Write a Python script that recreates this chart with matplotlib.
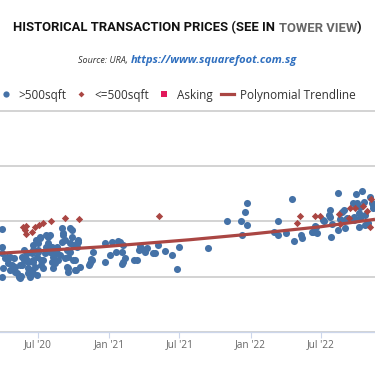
import matplotlib
matplotlib.use("Agg")
import matplotlib.pyplot as plt
import pandas as pd
from matplotlib.lines import Line2D

# >500sqft transactions (date, psf)
big_dates = [
    "2020-03-29", "2020-03-29", "2020-03-29", "2020-04-07", "2020-04-03", "2020-03-29",
    "2020-04-20", "2020-04-25", "2020-05-03", "2020-05-12", "2020-05-16", "2020-05-20",
    "2020-05-25", "2020-06-02", "2020-06-06", "2020-06-10", "2020-06-15", "2020-06-19",
    "2020-06-19", "2020-06-26", "2020-07-02", "2020-07-06", "2020-07-10", "2020-07-15",
    "2020-07-19", "2020-07-23", "2020-07-27", "2020-08-01", "2020-08-05", "2020-08-09",
    "2020-08-14", "2020-08-18", "2020-08-27", "2020-08-31", "2020-09-04", "2020-08-31",
    "2020-09-09", "2020-09-13", "2020-09-17", "2020-09-22", "2020-09-26", "2020-09-22",
    "2020-09-30", "2020-10-05", "2020-10-09", "2020-10-13", "2020-10-18", "2020-11-13",
    "2020-11-14",
    "2020-04-11", "2020-04-15", "2020-04-20", "2020-04-29", "2020-05-03", "2020-05-07",
    "2020-05-16", "2020-05-20", "2020-05-25", "2020-05-29", "2020-06-02", "2020-06-06",
    "2020-06-15", "2020-06-19", "2020-06-19", "2020-06-23", "2020-06-28", "2020-07-02",
    "2020-07-02", "2020-07-06", "2020-07-10", "2020-07-15", "2020-07-23", "2020-07-27",
    "2020-08-01", "2020-08-05", "2020-08-09", "2020-08-14", "2020-08-18", "2020-08-22",
    "2020-09-04", "2020-09-09", "2020-09-13", "2020-09-17", "2020-09-17", "2020-09-26",
    "2020-09-22", "2020-09-30", "2020-10-05", "2020-10-07", "2020-10-09", "2020-10-13",
    "2020-05-18", "2020-06-06", "2020-06-19", "2020-06-28",
    "2020-11-11", "2020-11-21", "2020-11-17", "2020-12-20", "2020-12-20", "2021-01-03",
    "2021-01-09", "2021-01-18", "2021-01-24", "2021-01-30", "2021-02-03", "2021-02-06",
    "2021-02-11", "2021-02-06", "2021-02-02", "2021-03-05", "2021-03-14", "2021-03-18",
    "2021-03-22", "2021-03-26", "2021-04-04", "2021-04-08", "2021-04-23", "2021-04-29",
    "2021-05-08", "2021-05-25", "2021-06-11", "2021-06-26", "2021-07-01",
    "2021-09-12", "2021-11-02", "2021-12-06", "2021-12-17", "2021-12-23", "2021-12-23",
    "2021-12-10", "2022-03-13", "2022-03-02", "2022-03-13", "2022-04-01", "2022-04-18",
    "2022-04-22", "2022-05-11", "2022-05-14", "2022-06-08", "2022-06-17", "2022-06-21",
    "2022-07-07", "2022-07-21", "2022-07-24", "2022-07-26", "2022-07-27", "2022-07-30",
    "2022-08-14", "2022-08-14", "2022-08-19", "2022-08-25", "2022-08-29", "2022-09-01",
    "2022-09-07", "2022-09-22", "2022-09-24", "2022-10-01", "2022-10-02", "2022-10-07",
    "2022-10-11", "2022-10-15", "2022-10-20", "2022-10-24", "2022-10-28", "2022-11-06",
    "2022-11-10", "2022-11-12", "2022-11-14", "2022-10-11", "2022-09-24", "2022-09-02",
    "2022-10-07", "2022-10-24", "2022-11-01", "2022-06-12", "2022-06-18", "2022-07-09",
]
big_psf = [
    1373, 1309, 1285, 1267, 1231, 1200,
    1272, 1243, 1218, 1200, 1243, 1272,
    1297, 1261, 1231, 1200, 1285, 1254,
    1315, 1333, 1297, 1345, 1261, 1231,
    1285, 1351, 1321, 1291, 1254, 1231,
    1285, 1309, 1279, 1375, 1357, 1327,
    1267, 1236, 1218, 1375, 1345, 1291,
    1261, 1224, 1321, 1333, 1236, 1249,
    1263,
    1272, 1249, 1224, 1267, 1236, 1212,
    1194, 1243, 1261, 1272, 1285, 1254,
    1224, 1297, 1261, 1236, 1272, 1321,
    1291, 1339, 1243, 1261, 1309, 1345,
    1351, 1309, 1272, 1249, 1285, 1261,
    1351, 1333, 1297, 1272, 1231, 1369,
    1321, 1315, 1261, 1224, 1309, 1327,
    1203, 1212, 1212, 1206,
    1243, 1291, 1261, 1321, 1253, 1279,
    1327, 1291, 1331, 1325, 1291, 1315,
    1267, 1254, 1245, 1261, 1261, 1297,
    1311, 1299, 1291, 1303, 1287, 1285,
    1315, 1293, 1279, 1227, 1309,
    1303, 1401, 1401, 1433, 1467, 1388,
    1351, 1403, 1363, 1351, 1359, 1480,
    1331, 1351, 1341, 1363, 1384, 1359,
    1405, 1424, 1442, 1417, 1343, 1391,
    1502, 1369, 1408, 1435, 1442, 1375,
    1411, 1466, 1415, 1500, 1466, 1430,
    1451, 1511, 1471, 1424, 1391, 1490,
    1468, 1449, 1460, 1411, 1405, 1405,
    1381, 1387, 1393, 1363, 1381, 1403,
]

# <=500sqft transactions
small_dates = [
    "2020-05-23", "2020-05-31", "2020-05-29", "2020-06-01", "2020-06-15", "2020-06-23",
    "2020-07-03", "2020-07-13", "2020-08-03", "2020-09-08", "2020-10-16", "2021-05-09",
    "2022-05-01", "2022-05-08", "2022-06-15", "2022-06-30", "2022-08-17", "2022-08-20",
    "2022-09-12", "2022-09-15", "2022-09-28", "2022-10-18", "2022-10-28", "2022-11-05",
    "2022-11-08",
]
small_psf = [
    1381, 1384, 1369, 1355, 1362, 1379,
    1387, 1393, 1403, 1413, 1409, 1420,
    1396, 1421, 1421, 1420, 1427, 1390,
    1413, 1448, 1448, 1456, 1438, 1379,
    1483,
]

# asking prices (none in view)
ask_dates = []
ask_psf = []

# polynomial trendline
trend_dates = ["2020-03-25", "2020-12-09", "2021-07-28", "2021-12-29", "2022-07-01", "2022-11-18"]
trend_psf = [1285, 1308, 1334, 1354, 1381, 1408]

tick_dates = ["2020-07-01", "2021-01-01", "2021-07-01", "2022-01-01", "2022-07-01"]
tick_labels = ["Jul '20", "Jan '21", "Jul '21", "Jan '22", "Jul '22"]

blue = "#4572A7"
red = "#AA4643"
pink = "#E2185B"

fig = plt.figure(figsize=(3.75, 3.66), dpi=100)
ax = fig.add_axes([0.0, 0.0929, 1.0, 0.6076])

ax.scatter(pd.to_datetime(big_dates), big_psf, s=26, color=blue, linewidths=0, zorder=3)
ax.scatter(pd.to_datetime(small_dates), small_psf, s=14, marker="D", color=red, linewidths=0, zorder=4)
ax.scatter(pd.to_datetime(ask_dates), ask_psf, s=16, marker="s", color=pink, zorder=4)
ax.plot(pd.to_datetime(trend_dates), trend_psf, color=red, lw=2.3, zorder=5, solid_capstyle="butt")

ax.set_xlim(pd.Timestamp("2020-03-25"), pd.Timestamp("2022-11-18"))
ax.set_ylim(1000, 1805)
ax.set_yticks([1000, 1200, 1400, 1600, 1800])
ax.yaxis.grid(True, color="#d3d3d3", lw=1.4)
ax.set_axisbelow(True)
ax.tick_params(axis="y", left=False, labelleft=False)
ax.set_xticks(pd.to_datetime(tick_dates))
ax.set_xticklabels(tick_labels, fontsize=7.3, color="#666666", family="Open Sans")
ax.tick_params(axis="x", length=4, color="#ccd6eb", width=0.8, pad=1)
for side in ["top", "left", "right"]:
    ax.spines[side].set_visible(False)
ax.spines["bottom"].set_color("#ccd6eb")
ax.spines["bottom"].set_linewidth(0.9)


def rich_line(y, parts, fit_width=None):
    # lay out differently styled pieces side by side, centred on the figure
    fig.canvas.draw()
    r = fig.canvas.get_renderer()
    texts = [fig.text(0, y, s, va="center", ha="left", **kw) for s, kw in parts]
    widths = [t.get_window_extent(r).width for t in texts]
    if fit_width:
        k = fit_width / sum(widths)
        for t in texts:
            t.set_fontsize(t.get_fontsize() * k)
        widths = [t.get_window_extent(r).width for t in texts]
    x = (fig.bbox.width - sum(widths)) / 2
    for t, w in zip(texts, widths):
        t.set_x(x / fig.bbox.width)
        x += w


title_kw = dict(fontsize=10.3, fontweight="bold", fontstretch="condensed",
                family=["Liberation Sans Narrow", "Roboto", "DejaVu Sans"])
rich_line(1 - 28 / 366, [
    ("HISTORICAL TRANSACTION PRICES (SEE IN ", dict(color="#111111", **title_kw)),
    ("TOWER VIEW", dict(color="#666666", **title_kw)),
    (")", dict(color="#111111", **title_kw)),
], fit_width=344)
rich_line(1 - 60 / 366, [
    ("Source: URA, ", dict(fontsize=6.5, style="italic", color="#333333", family="Open Sans")),
    ("https://www.squarefoot.com.sg", dict(fontsize=8, style="italic", fontweight="bold",
                                         color="#2F6FBF", family="Open Sans")),
])

handles = [
    Line2D([], [], ls="none", marker="o", ms=4.5, color=blue, mew=0),
    Line2D([], [], ls="none", marker="D", ms=3, color=red, mew=0),
    Line2D([], [], ls="none", marker="s", ms=4, color=pink, mew=0),
    Line2D([], [], color=red, lw=2.3),
]
leg = fig.legend(handles, [">500sqft", "<=500sqft", "Asking", "Polynomial Trendline"],
                 loc="center left", bbox_to_anchor=(-0.002, 1 - 95 / 366), ncol=4, frameon=False,
                 handlelength=1.1, handletextpad=0.55, columnspacing=0.7, borderaxespad=0,
                 borderpad=0, prop={"family": "Open Sans", "size": 8.5})
for t in leg.get_texts():
    t.set_color("#333333")

fig.savefig("out.png", dpi=100)
